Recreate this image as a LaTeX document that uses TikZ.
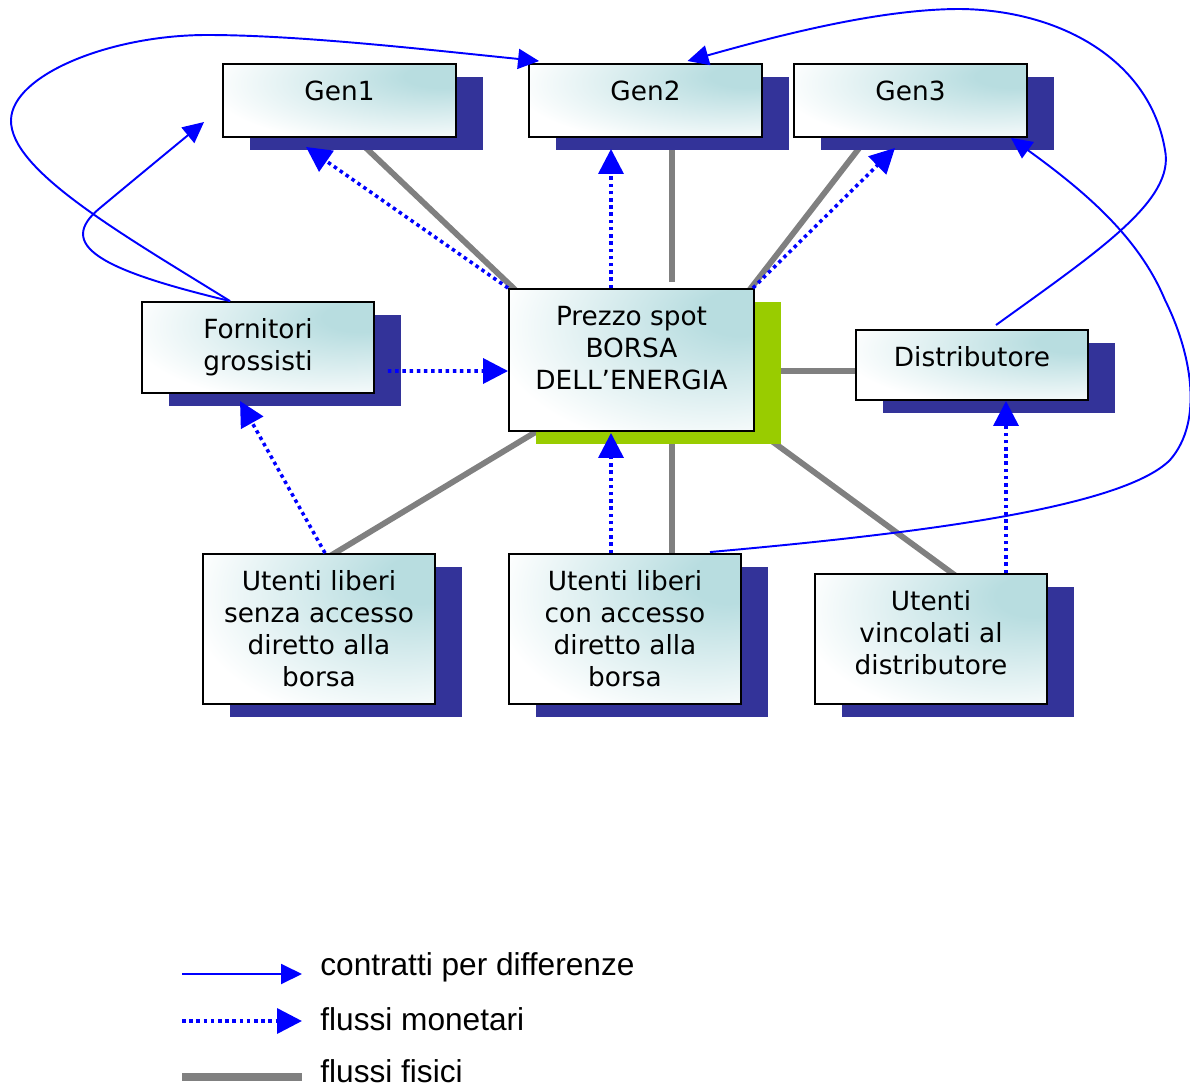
\documentclass[tikz,border=0pt]{standalone}
\usepackage{fontspec}
\setmainfont{DejaVu Sans}
\newfontfamily\legendfont{Liberation Sans}
\usepackage{tikz}
\usetikzlibrary{arrows.meta, calc, shadows, backgrounds}

\definecolor{boxteal}{RGB}{184,221,224}
\definecolor{shadowblue}{RGB}{51,51,153}
\definecolor{spotgreen}{RGB}{153,204,0}
\definecolor{flowgray}{RGB}{128,128,128}

% teal glow in the upper right of every box
\pgfdeclareradialshading{cardglow}{\pgfpoint{24bp}{18bp}}{%
  color(0bp)=(boxteal); color(8bp)=(boxteal); color(42bp)=(white); color(100bp)=(white)}

\newcommand{\boxtext}[3]{\parbox[c][#2][t]{#1}{\centering\rule{0pt}{20.6pt}#3}}

\begin{document}
\begin{tikzpicture}[x=0.02cm, y=-0.02cm,
      card/.style={rectangle, draw, line width=1.1pt, inner sep=0pt,
        shade, shading=cardglow,
        font=\fontsize{15}{18.3}\selectfont},
      actor/.style={card, drop shadow={shadow xshift=0.54cm, shadow yshift=-0.26cm, fill=shadowblue, opacity=1}},
      market/.style={card, drop shadow={shadow xshift=0.54cm, shadow yshift=-0.26cm, fill=spotgreen, opacity=1}},
      physical/.style={flowgray, line width=3.3pt},
      money/.style={blue, line width=2pt, dash pattern=on 2pt off 2.1pt, -{Triangle[length=0.5cm, width=0.5cm]}},
      contract/.style={blue, line width=1.1pt, -{Triangle[length=0.42cm, width=0.4cm]}},
      legend/.style={anchor=base west, inner sep=0pt, font=\legendfont\fontsize{18}{21}\selectfont}]

      \useasboundingbox (0,0) rectangle (1190,1088);

      \node[actor] (gen1) at (339.5,100.5) {\boxtext{4.66cm}{1.46cm}{Gen1}};
      \node[actor] (gen2) at (645.5,100.5) {\boxtext{4.66cm}{1.46cm}{Gen2}};
      \node[actor] (gen3) at (910.5,100.5) {\boxtext{4.66cm}{1.46cm}{Gen3}};
      \node[market] (borsa) at (631.5,360) {\boxtext{4.9cm}{2.84cm}{Prezzo spot\\BORSA\\DELL’ENERGIA}};
      \node[actor] (forn) at (258,347.5) {\boxtext{4.64cm}{1.82cm}{Fornitori\\grossisti}};
      \node[actor] (distr) at (972,365) {\boxtext{4.64cm}{1.4cm}{Distributore}};
      \node[actor] (usenza) at (319,629) {\boxtext{4.64cm}{3cm}{Utenti liberi\\senza accesso\\diretto alla\\borsa}};
      \node[actor] (ucon) at (625,629) {\boxtext{4.64cm}{3cm}{Utenti liberi\\con accesso\\diretto alla\\borsa}};
      \node[actor] (uvinc) at (931,639) {\boxtext{4.64cm}{2.6cm}{Utenti\\vincolati al\\distributore}};

      % Physical flows
      \begin{pgfonlayer}{background}
        \draw[physical] ($(gen1.south)+(16,0)$) -- ($(borsa.north west)+(20,14)$);
        \draw[physical] ($(gen2.south)+(26.5,0)$) -- ($(borsa.north)+(40.5,-6)$);
        \draw[physical] ($(gen3.south)+(-43.5,0)$) -- ($(borsa.north east)+(-14.7,13.9)$);
        \draw[physical] ($(borsa.east)+(-10,11)$) -- ($(distr.west)+(10,6)$);
        \draw[physical] ($(borsa.south west)+(36,-5)$) -- ($(usenza.north)+(6,6)$);
        \draw[physical] ($(borsa.south)+(40.5,0)$) -- ($(ucon.north)+(47,6)$);
        \draw[physical] ($(borsa.south east)+(4.4,0)$) -- ($(uvinc.north)+(29.8,6.5)$);
      \end{pgfonlayer}

      % Money flows
      \draw[money] (borsa.north west) -- ($(gen1.south)+(-33.5,9)$);
      \draw[money] ($(borsa.north)+(-20.5,0)$) -- ($(gen2.south)+(-34.5,11)$);
      \draw[money] ($(borsa.north east)+(-2,0)$) -- ($(gen3.south)+(-15.5,10)$);
      \draw[money] ($(forn.east)+(13,23.5)$) -- ($(borsa.west)+(0,11)$);
      \draw[money] ($(usenza.north)+(6,0)$) -- ($(forn.south)+(-18,7)$);
      \draw[money] ($(ucon.north)+(-14,0)$) -- ($(borsa.south)+(-20.5,1)$);
      \draw[money] ($(uvinc.north)+(75,0)$) -- ($(distr.south)+(34,0)$);

      % Contracts for differences
      \coordinate (g1near) at ($(gen1.west)+(-18,21.5)$);
      \draw[contract] ($(forn.north)+(-28,0)$) .. controls (100,270) and (55,245) .. (100,208)
        .. controls (130,183) and (170,150) .. (g1near);
      \draw[contract] ($(forn.north)+(-28,0)$) .. controls (120,233) and (10,170) .. (11,120)
        .. controls (12,75) and (110,35) .. (207,35)
        .. controls (300,35) and (430,50) .. ($(gen2.north west)+(11,-2)$);
      \draw[contract] ($(distr.north)+(24,-4)$) .. controls (1100,250) and (1175,200) .. (1165,150)
        .. controls (1150,60) and (1060,10) .. (960,9)
        .. controls (880,9) and (780,35) .. ($(gen2.north)+(42,-2)$);
      \draw[contract] ($(ucon.north)+(85,-1)$) .. controls (900,535) and (1120,510) .. (1170,460)
        .. controls (1205,420) and (1190,350) .. (1165,300)
        .. controls (1140,240) and (1090,195) .. ($(gen3.south east)+(-17,0)$);

      % Legend
      \coordinate (k1a) at (182,974); \coordinate (k1b) at (302,974);
      \coordinate (k2a) at (182,1021); \coordinate (k2b) at (302,1021);
      \coordinate (k3a) at (182,1077); \coordinate (k3b) at (302,1077);
      \draw[contract] (k1a) -- (k1b);
      \draw[money] (k2a) -- (k2b);
      \draw[physical, line width=4.5pt] (k3a) -- (k3b);
      \node[legend] (k1) at (320,975) {contratti per differenze};
      \node[legend] (k2) at (320,1030.5) {flussi monetari};
      \node[legend] (k3) at (320,1082) {flussi fisici};
\end{tikzpicture}
\end{document}
